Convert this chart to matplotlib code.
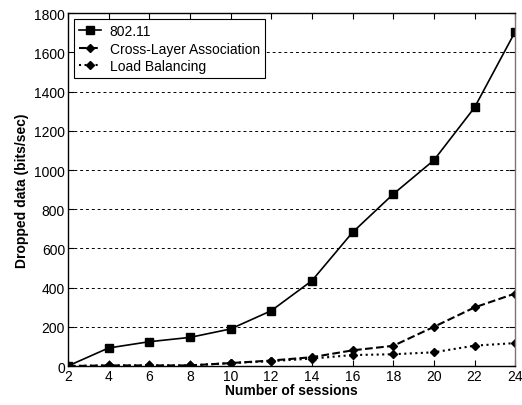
import matplotlib
matplotlib.use("Agg")
import matplotlib.pyplot as plt

plt.rcParams['font.family'] = ['Liberation Sans', 'DejaVu Sans']

sessions = [2, 4, 6, 8, 10, 12, 14, 16, 18, 20, 22, 24]
dot11 = [0, 92, 124, 146, 189, 282, 435, 682, 877, 1050, 1319, 1706]
cross_layer = [0, 3, 3, 3, 15, 28, 45, 80, 103, 200, 299, 370]
load_bal = [0, 3, 3, 3, 15, 25, 38, 56, 60, 70, 104, 117]

xticks = [2, 4, 6, 8, 10, 12, 14, 16, 18, 20, 22, 24]
yticks = [0, 200, 400, 600, 800, 1000, 1200, 1400, 1600, 1800]

fig = plt.figure(figsize=(5.22, 4.06), dpi=100)
ax = fig.add_axes([0.130, 0.096, 0.857, 0.869])

ax.plot(sessions, dot11, '-', color='black', lw=1.2, marker='s', ms=5.5, label='802.11')
ax.plot(sessions, cross_layer, '--', color='black', lw=1.5, marker='D', ms=4.5, label='Cross-Layer Association')
ax.plot(sessions, load_bal, ':', color='black', lw=1.5, marker='D', ms=4, label='Load Balancing')

ax.set_xlim(2, 24)
ax.set_ylim(0, 1800)
ax.set_xticks(xticks)
ax.set_yticks(yticks)
ax.tick_params(direction='in', top=True, right=True, labelsize=10, length=4, width=0.8, pad=2)
ax.yaxis.grid(True, linestyle=(0, (3, 3)), color='black', lw=0.7)
ax.set_axisbelow(True)
for s in ax.spines.values():
    s.set_linewidth(1.0)
ax.spines['right'].set_color('#777777')

ax.set_xlabel('Number of sessions', fontweight='bold', fontsize=10, labelpad=0)
ax.set_ylabel('Dropped data (bits/sec)', fontweight='bold', fontsize=10, labelpad=4)

leg = ax.legend(loc='upper left', fontsize=10, fancybox=False, framealpha=1,
                edgecolor='black', handlelength=1.6, borderpad=0.35, labelspacing=0.25,
                handletextpad=0.6, borderaxespad=0.45)
leg.get_frame().set_linewidth(0.8)

fig.savefig('out.png', dpi=100)
